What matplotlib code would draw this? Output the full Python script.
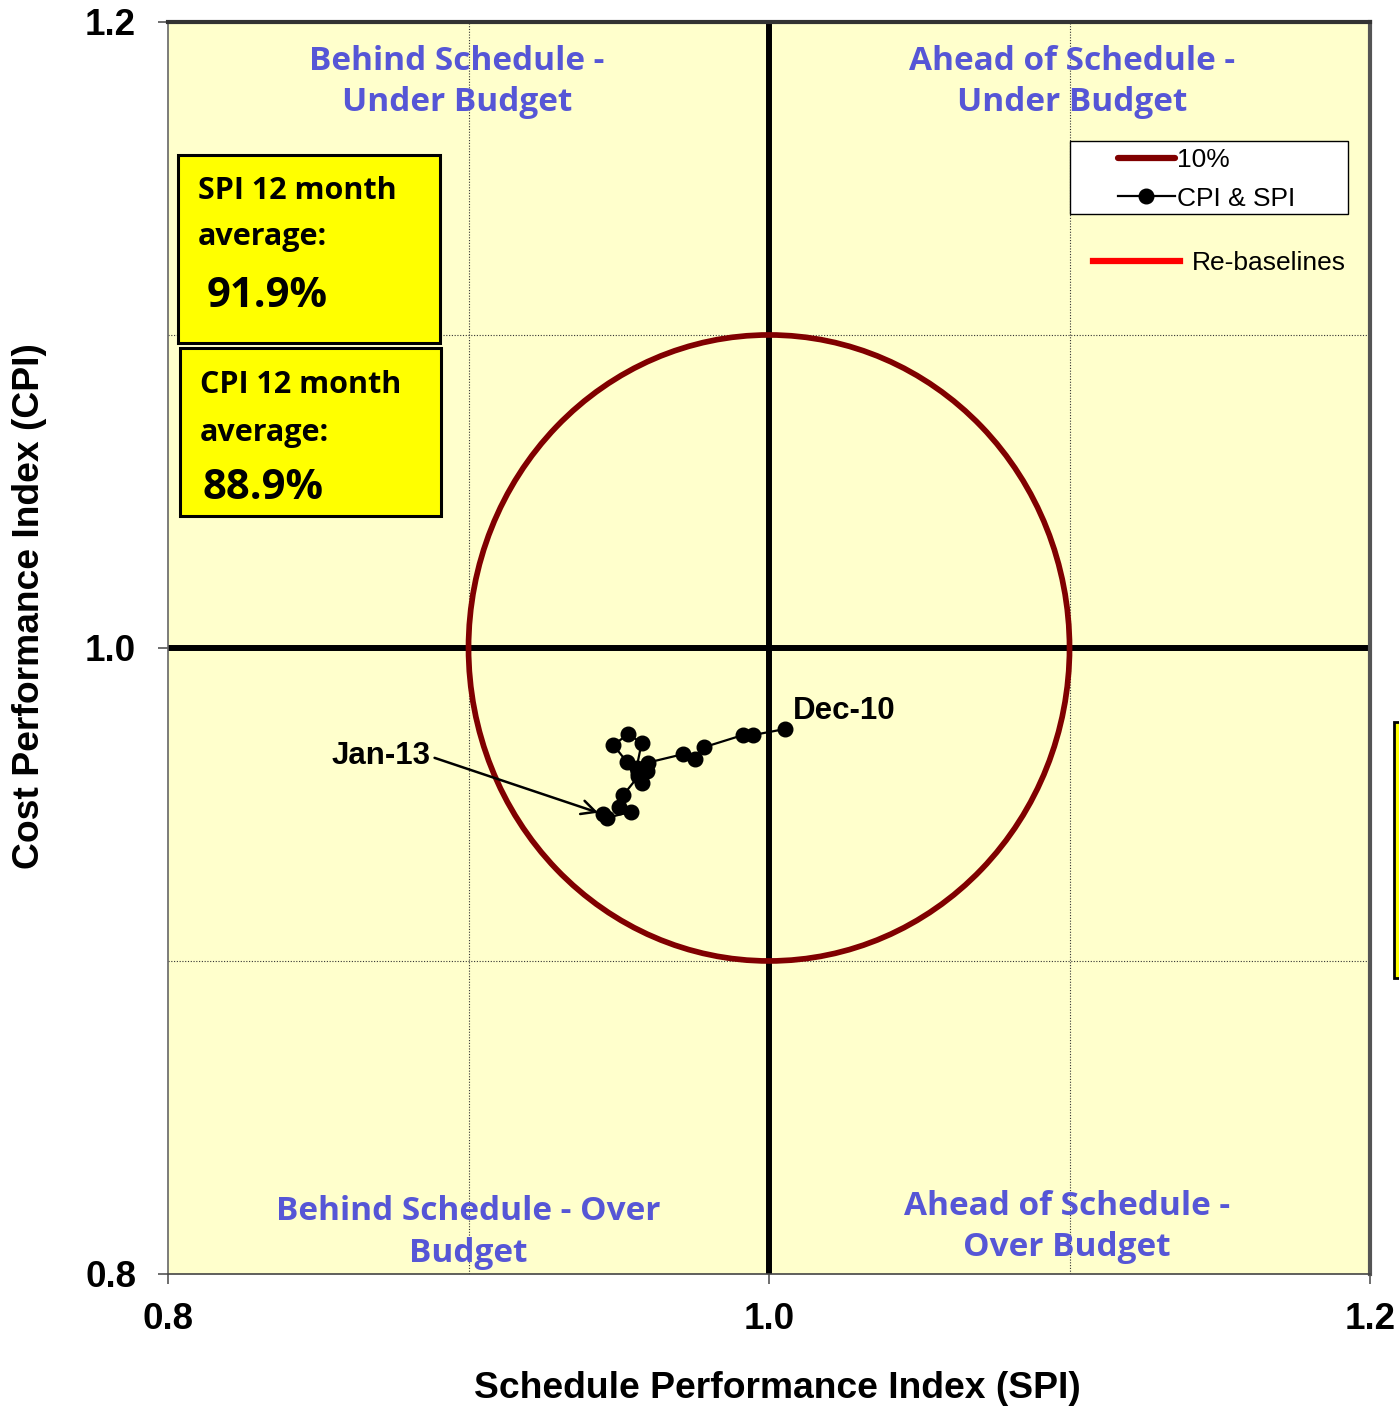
import numpy as np
import matplotlib
matplotlib.use("Agg")
import matplotlib.pyplot as plt
from matplotlib.patches import Rectangle, Circle
from matplotlib.lines import Line2D

# monthly CPI/SPI points, Dec-10 ... Jan-13
months = ["Dec-10", "Jan-11", "Feb-11", "Mar-11", "Apr-11", "May-11", "Jun-11",
          "Jul-11", "Aug-11", "Sep-11", "Oct-11", "Nov-11", "Dec-11", "Jan-12",
          "Feb-12", "Mar-12", "Apr-12", "May-12", "Jun-12", "Jul-12", "Jan-13"]
spi = [1.0053, 0.9948, 0.9914, 0.9784, 0.9752, 0.9715, 0.9598,
       0.9593, 0.9576, 0.9565, 0.9526, 0.9482, 0.9532, 0.9576,
       0.9559, 0.9565, 0.9515, 0.9502, 0.9542, 0.9460, 0.9449]
cpi = [0.9741, 0.9722, 0.9722, 0.9683, 0.9645, 0.9661, 0.9634,
       0.9607, 0.9568, 0.9602, 0.9637, 0.9690, 0.9725, 0.9696,
       0.9616, 0.9590, 0.9530, 0.9493, 0.9477, 0.9457, 0.9468]

CENTER = (1.0, 1.0)
TOLERANCE = 0.10  # 10% circle

x_ticks = [0.8, 1.0, 1.2]
y_ticks = [0.8, 1.0, 1.2]
grid_ticks = [0.9, 1.1]

spi_avg = "91.9%"
cpi_avg = "88.9%"

BG = "#FFFFCC"
QUAD_COLOR = "#5656D6"
CIRCLE_COLOR = "#800000"
AX_FONT = "Liberation Sans"
BOX_FONT = "Open Sans"

fig = plt.figure(figsize=(13.99, 14.08), dpi=100)
ax = fig.add_axes([0.1201, 0.0952, 0.8592, 0.8892])
ax.set_facecolor(BG)
ax.set_xlim(0.8, 1.2)
ax.set_ylim(0.8, 1.2)

# dotted grid on minor positions
ax.set_xticks(grid_ticks, minor=True)
ax.set_yticks(grid_ticks, minor=True)
ax.grid(True, which="minor", linestyle=(0, (1, 1.5)), color="#333333", linewidth=0.8)
ax.tick_params(which="minor", length=0)

ax.set_xticks(x_ticks)
ax.set_yticks(y_ticks)
ax.set_xticklabels([f"{v:.1f}" for v in x_ticks])
ax.set_yticklabels([f"{v:.1f}" for v in y_ticks])
ax.tick_params(which="major", direction="out", length=7, width=1.2, color="#555555",
               labelsize=26.5)
ax.tick_params(axis="y", pad=16)
ax.tick_params(axis="x", pad=13)
for lab in ax.get_xticklabels() + ax.get_yticklabels():
    lab.set_fontfamily(AX_FONT)
    lab.set_fontweight("bold")

ax.spines["top"].set_linewidth(3)
ax.spines["top"].set_color("#333333")
ax.spines["right"].set_linewidth(3)
ax.spines["right"].set_color("#555555")
ax.spines["left"].set_linewidth(1.2)
ax.spines["left"].set_color("#666666")
ax.spines["bottom"].set_linewidth(1.2)
ax.spines["bottom"].set_color("#444444")

# quadrant dividers
ax.axvline(CENTER[0], color="black", linewidth=4.3, zorder=2)
ax.axhline(CENTER[1], color="black", linewidth=4.3, zorder=2)

# 10% circle
circ = Circle(CENTER, TOLERANCE, fill=False, edgecolor=CIRCLE_COLOR, linewidth=4.1, zorder=3)
ax.add_patch(circ)
ring_handle = Line2D([], [], color=CIRCLE_COLOR, linewidth=4.5, solid_capstyle="round")

# data
data_line, = ax.plot(spi, cpi, color="black", linewidth=1.6, marker="o",
                     markersize=10.5, zorder=5, label="CPI & SPI")
rebase_line, = ax.plot([], [], color="#FF0000", linewidth=4.5, label="Re-baselines")

ax.annotate(months[0], xy=(spi[0], cpi[0]), xytext=(8, 18), textcoords="offset pixels",
            fontsize=22.5, fontweight="bold", fontfamily=AX_FONT, va="center", ha="left")
ax.annotate(months[-1], xy=(spi[-1], cpi[-1]), xytext=(-173, 58), textcoords="offset pixels",
            fontsize=22.5, fontweight="bold", fontfamily=AX_FONT, va="center", ha="right",
            arrowprops=dict(arrowstyle="->", color="black", lw=1.8, relpos=(1.0, 0.5),
                            shrinkA=1, shrinkB=4, mutation_scale=25))

# quadrant labels
quad_kw = dict(color=QUAD_COLOR, fontsize=24, fontweight="bold", fontfamily=BOX_FONT,
               ha="center", va="center", linespacing=1.34, transform=ax.transAxes)
ax.text(0.2404, 0.9520, "Behind Schedule -\nUnder Budget", **quad_kw)
ax.text(0.7521, 0.9520, "Ahead of Schedule -\nUnder Budget", **quad_kw)
ax.text(0.2496, 0.0330, "Behind Schedule - Over\nBudget", **quad_kw)
ax.text(0.7479, 0.0375, "Ahead of Schedule -\nOver Budget", **quad_kw)

# average boxes
for (x0, y0, w, h) in [(0.0083, 0.7436, 0.2180, 0.1502), (0.0100, 0.6054, 0.2171, 0.1342)]:
    ax.add_patch(Rectangle((x0, y0), w, h, transform=ax.transAxes, facecolor="#FFFF00",
                           edgecolor="black", linewidth=2.2, zorder=6))
box_kw = dict(transform=ax.transAxes, fontfamily=BOX_FONT, fontweight="bold",
              ha="left", va="center", zorder=7)
ax.text(0.025, 0.8650, "SPI 12 month", fontsize=22, **box_kw)
ax.text(0.025, 0.8280, "average:", fontsize=22, **box_kw)
ax.text(0.0324, 0.7805, spi_avg, fontsize=30, **box_kw)
ax.text(0.0266, 0.7100, "CPI 12 month", fontsize=22, **box_kw)
ax.text(0.0266, 0.6715, "average:", fontsize=22, **box_kw)
ax.text(0.0283, 0.6275, cpi_avg, fontsize=30, **box_kw)

# legend box
ax.add_patch(Rectangle((0.7504, 0.8466), 0.2313, 0.0584, transform=ax.transAxes,
                       facecolor="white", edgecolor="black", linewidth=1, zorder=6))
leg1 = ax.legend([ring_handle, data_line], ["10%", "CPI & SPI"], loc="upper left",
                 bbox_to_anchor=(0.786, 0.9035), frameon=False,
                 prop=dict(family=AX_FONT, size=19), handlelength=2.15,
                 handletextpad=0.1, labelspacing=0.55, borderpad=0.2, borderaxespad=0)
leg1.set_zorder(8)
ax.add_artist(leg1)
leg2 = ax.legend([rebase_line], ["Re-baselines"], loc="upper left",
                 bbox_to_anchor=(0.7654, 0.8210), frameon=False,
                 prop=dict(family=AX_FONT, size=19), handlelength=3.3,
                 handletextpad=0.45, borderpad=0.2, borderaxespad=0)
leg2.set_zorder(8)

# axis titles
fig.text(777 / 1399, 1 - 1388 / 1408, "Schedule Performance Index (SPI)", fontsize=26.8,
         fontweight="bold", fontfamily=AX_FONT, ha="center", va="center")
fig.text(30 / 1399, 1 - 606 / 1408, "Cost Performance Index (CPI)", fontsize=26.8,
         fontweight="bold", fontfamily=AX_FONT, ha="center", va="center", rotation=90)

# clipped yellow box at the right edge
fig.patches.append(Rectangle((0.9964, 0.3054), 0.05, 0.1818, transform=fig.transFigure,
                             facecolor="#FFFF00", edgecolor="black", linewidth=2,
                             figure=fig))

fig.savefig("out.png", dpi=100)
